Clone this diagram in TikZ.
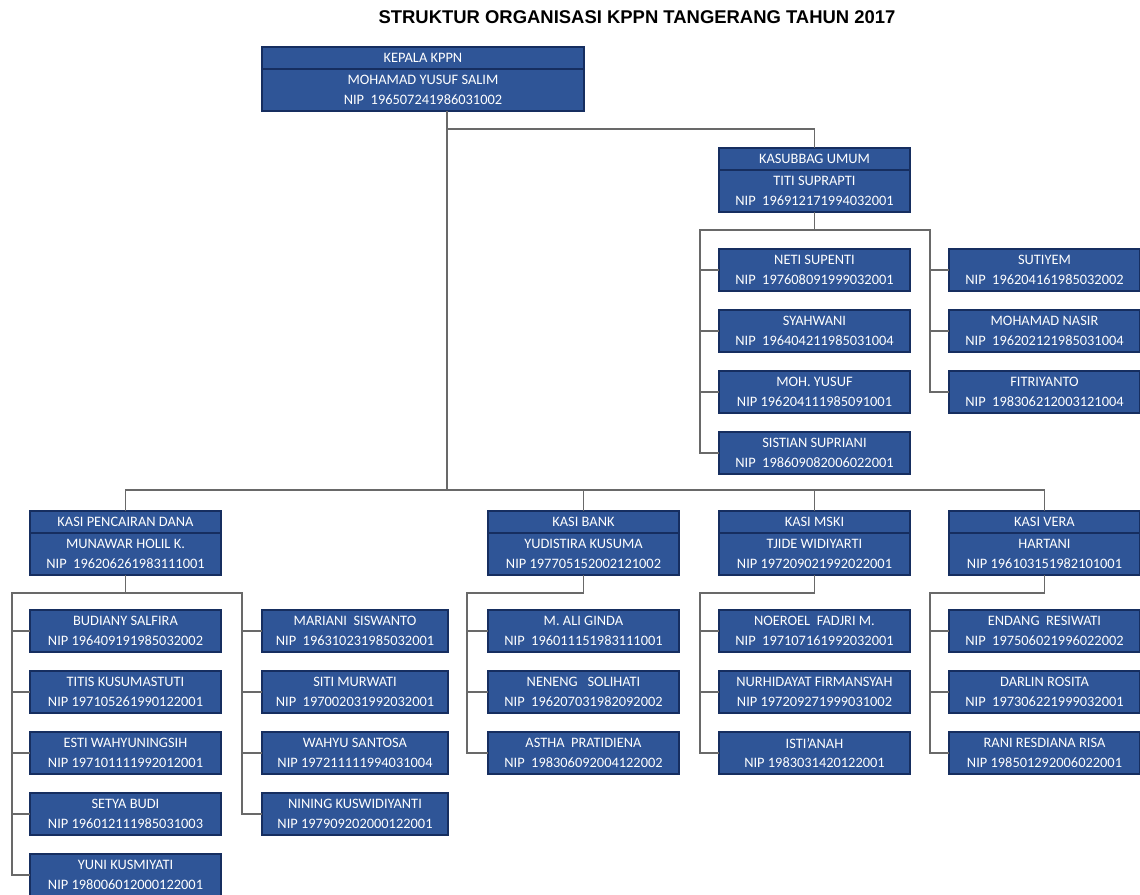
\documentclass[tikz,border=0pt]{standalone}
\usepackage{fontspec}
\setmainfont{Carlito}
\newfontfamily\titlefont{Liberation Sans}
\usepackage{tikz}
\usetikzlibrary{positioning}
\definecolor{kppnblue}{RGB}{47,85,151}
\definecolor{kppnnavy}{RGB}{22,46,96}
\definecolor{kppngray}{RGB}{105,105,105}

\begin{document}
\begin{tikzpicture}[
  x=0.02cm, y=-0.02cm,
  node distance=0.38cm and 0.38cm,
  head/.style={rectangle, draw=kppnnavy, fill=kppnblue, line width=1.2pt,
    minimum width=#1, minimum height=0.44cm, inner sep=0pt, outer sep=0pt,
    text=white, align=center, font=\fontsize{8.2}{11.3}\selectfont},
  head/.default=3.82cm,
  body/.style={head=#1, minimum height=0.84cm},
  body/.default=3.82cm,
  staff/.style={head=#1, minimum height=0.84cm},
  staff/.default=3.82cm,
  link/.style={draw=kppngray, line width=0.8pt},
]
\useasboundingbox (0,0) rectangle (1140,895);
\node[font=\titlefont\bfseries\fontsize{10.5}{12}\selectfont] (title) at (637,17)
  {STRUKTUR ORGANISASI KPPN TANGERANG TAHUN 2017};

% pimpinan
\node[head=6.44cm, anchor=north west] (kepala) at (262,47) {KEPALA KPPN};
\node[body=6.44cm, below=0pt of kepala] (kepalaB)
  {MOHAMAD YUSUF SALIM\\NIP~ 196507241986031002};

% subbagian umum
\node[head, anchor=north west] (kasubbag) at (719,148) {KASUBBAG UMUM};
\node[body, below=0pt of kasubbag] (kasubbagB)
  {TITI SUPRAPTI\\NIP~ 196912171994032001};
\node[staff, anchor=north west] (neti) at (719,249)
  {NETI SUPENTI\\NIP~ 197608091999032001};
\node[staff, below=of neti] (syahwani) {SYAHWANI\\NIP~ 196404211985031004};
\node[staff, below=of syahwani] (yusuf) {MOH. YUSUF\\NIP 196204111985091001};
\node[staff, below=of yusuf] (sistian)
  {SISTIAN SUPRIANI\\NIP~ 198609082006022001};
\node[staff, anchor=north west] (sutiyem) at (949,249)
  {SUTIYEM\\NIP~ 196204161985032002};
\node[staff, below=of sutiyem] (nasir)
  {MOHAMAD NASIR\\NIP~ 196202121985031004};
\node[staff, below=of nasir] (fitriyanto)
  {FITRIYANTO\\NIP~ 198306212003121004};

% seksi
\node[head, anchor=north west] (pencairan) at (30,511) {KASI PENCAIRAN DANA};
\node[body, below=0pt of pencairan] (pencairanB)
  {MUNAWAR HOLIL K.\\NIP~ 196206261983111001};
\node[head, anchor=north west] (bank) at (488,511) {KASI BANK};
\node[body, below=0pt of bank] (bankB)
  {YUDISTIRA KUSUMA\\NIP 197705152002121002};
\node[head, anchor=north west] (mski) at (719,511) {KASI MSKI};
\node[body, below=0pt of mski] (mskiB)
  {TJIDE WIDIYARTI\\NIP 197209021992022001};
\node[head, anchor=north west] (vera) at (949,511) {KASI VERA};
\node[body, below=0pt of vera] (veraB)
  {HARTANI\\NIP 196103151982101001};

% pelaksana pencairan dana
\node[staff, anchor=north west] (budiany) at (30,610)
  {BUDIANY SALFIRA\\NIP 196409191985032002};
\node[staff, below=of budiany] (titis)
  {TITIS KUSUMASTUTI\\NIP 197105261990122001};
\node[staff, below=of titis] (esti)
  {ESTI WAHYUNINGSIH\\NIP 197101111992012001};
\node[staff, below=of esti] (setya) {SETYA BUDI\\NIP 196012111985031003};
\node[staff, below=of setya] (yuni)
  {YUNI KUSMIYATI\\NIP 198006012000122001};
\node[staff=3.72cm, anchor=north west] (mariani) at (262,610)
  {MARIANI~ SISWANTO\\NIP~ 196310231985032001};
\node[staff=3.72cm, below=of mariani] (siti)
  {SITI MURWATI\\NIP~ 197002031992032001};
\node[staff=3.72cm, below=of siti] (wahyu)
  {WAHYU SANTOSA\\NIP 197211111994031004};
\node[staff=3.72cm, below=of wahyu] (nining)
  {NINING KUSWIDIYANTI\\NIP 197909202000122001};

% pelaksana bank
\node[staff, anchor=north west] (ali) at (488,610)
  {M. ALI GINDA\\NIP~ 196011151983111001};
\node[staff, below=of ali] (neneng)
  {NENENG~~ SOLIHATI\\NIP~ 196207031982092002};
\node[staff, below=of neneng] (astha)
  {ASTHA~ PRATIDIENA\\NIP~ 198306092004122002};

% pelaksana mski
\node[staff, anchor=north west] (noeroel) at (719,610)
  {NOEROEL~ FADJRI M.\\NIP~ 197107161992032001};
\node[staff, below=of noeroel] (nurhidayat)
  {NURHIDAYAT FIRMANSYAH\\NIP 197209271999031002};
\node[staff, below=of nurhidayat] (istianah)
  {ISTI'ANAH\\NIP 1983031420122001};

% pelaksana vera
\node[staff, anchor=north west] (endang) at (949,610)
  {ENDANG~ RESIWATI\\NIP~ 197506021996022002};
\node[staff, below=of endang] (darlin)
  {DARLIN ROSITA\\NIP~ 197306221999032001};
\node[staff, below=of darlin] (rani)
  {RANI RESDIANA RISA\\NIP 198501292006022001};

% garis komando
\coordinate (trunk) at (447,490);
\coordinate (umumJ) at (447,129);
\draw[link] (kepalaB.south -| trunk) -- (trunk);
\draw[link] (umumJ) -| (kasubbag.north);
\draw[link] (pencairan.north) |- (trunk) -| (vera.north);
\draw[link] (bank.north |- trunk) -- (bank.north);
\draw[link] (mski.north |- trunk) -- (mski.north);

% umum
\draw[link] (kasubbagB.south) -- ++(0,18) coordinate (umumS);
\coordinate (umumL) at ([xshift=-0.38cm]neti.west);
\coordinate (umumR) at ([xshift=-0.38cm]sutiyem.west);
\draw[link] (sistian.west) -| (umumL |- umumS) -| (umumR |- fitriyanto.west)
  -- (fitriyanto.west);
\foreach \n in {neti,syahwani,yusuf}
  \draw[link] (umumL |- \n.west) -- (\n.west);
\foreach \n in {sutiyem,nasir}
  \draw[link] (umumR |- \n.west) -- (\n.west);

% pencairan dana
\draw[link] (pencairanB.south) -- ++(0,18) coordinate (pcS);
\coordinate (pcL) at ([xshift=-0.36cm]budiany.west);
\coordinate (pcR) at ([xshift=-0.4cm]mariani.west);
\draw[link] (yuni.west) -| (pcL |- pcS) -| (pcR |- nining.west) -- (nining.west);
\foreach \n in {budiany,titis,esti,setya}
  \draw[link] (pcL |- \n.west) -- (\n.west);
\foreach \n in {mariani,siti,wahyu}
  \draw[link] (pcR |- \n.west) -- (\n.west);

% bank, mski, vera
\coordinate (bankL) at ([xshift=-0.42cm]ali.west);
\coordinate (mskiL) at ([xshift=-0.38cm]noeroel.west);
\coordinate (veraL) at ([xshift=-0.38cm]endang.west);
\draw[link] (bankB.south) -- ++(0,18) -| (bankL |- astha.west) -- (astha.west);
\draw[link] (mskiB.south) -- ++(0,18) -| (mskiL |- istianah.west) -- (istianah.west);
\draw[link] (veraB.south) -- ++(0,18) -| (veraL |- rani.west) -- (rani.west);
\foreach \n in {ali,neneng}
  \draw[link] (bankL |- \n.west) -- (\n.west);
\foreach \n in {noeroel,nurhidayat}
  \draw[link] (mskiL |- \n.west) -- (\n.west);
\foreach \n in {endang,darlin}
  \draw[link] (veraL |- \n.west) -- (\n.west);
\end{tikzpicture}
\end{document}
